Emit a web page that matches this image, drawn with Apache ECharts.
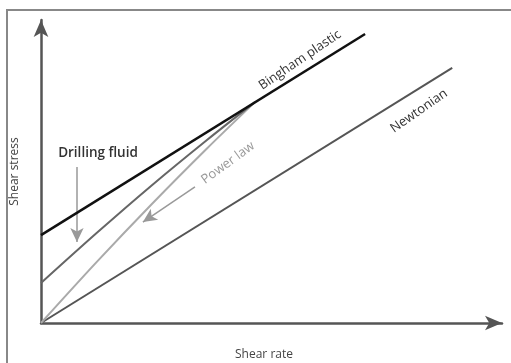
<!DOCTYPE html>
<html>
<head>
<meta charset="utf-8">
<script src="https://cdn.jsdelivr.net/npm/echarts@6/dist/echarts.min.js"></script>
<style>html,body{margin:0;padding:0;background:#fff}#c{width:511px;height:363px}</style>
</head>
<body>
<div id="c"></div>
<script>
// Values (arbitrary units: shear rate 0-100, shear stress 0-100)
const binghamX = [0, 70.3];
const binghamY = [29.0, 95.4];
const newtonianX = [0, 89.2];
const newtonianY = [0, 84.2];
const drillingX = [0, 12, 24, 36, 46.4];
const drillingY = [13.2, 29.6, 45.4, 60.4, 72.9];
const powerX = [0, 12, 24, 36, 46.4];
const powerY = [0, 20.0, 39.2, 57.6, 72.9];
const xTitle = 'Shear rate';
const yTitle = 'Shear stress';

const pairs = (xs, ys) => xs.map((x, i) => [x, ys[i]]);

const chart = echarts.init(document.getElementById('c'));
const FONT = 'Open Sans';
chart.setOption({
  animation: false,
  backgroundColor: '#fff',
  grid: {left: 41, top: 20, right: 9, bottom: 40},
  xAxis: {
    type: 'value', min: 0, max: 100,
    axisLine: {show: true, lineStyle: {color: '#555', width: 2.5}, symbol: ['none', 'arrow'], symbolSize: [11, 17]},
    axisTick: {show: false}, axisLabel: {show: false}, splitLine: {show: false}
  },
  yAxis: {
    type: 'value', min: 0, max: 100,
    name: yTitle, nameLocation: 'middle', nameGap: 20, nameRotate: 90,
    nameTextStyle: {fontFamily: FONT, fontSize: 12, color: '#444'},
    axisLine: {show: true, lineStyle: {color: '#555', width: 2.5}, symbol: ['none', 'arrow'], symbolSize: [11, 17]},
    axisTick: {show: false}, axisLabel: {show: false}, splitLine: {show: false}
  },
  graphic: [
    {type: 'rect', z: -10, shape: {x: 7, y: 10, width: 540, height: 390}, style: {fill: 'none', stroke: '#888', lineWidth: 2}},
    {type: 'text', x: 264, y: 355, style: {text: xTitle, font: '12px "Open Sans"', fill: '#444', align: 'center', verticalAlign: 'middle'}},
    {type: 'text', x: 98, y: 153, style: {text: 'Drilling fluid', font: '600 13.5px "Open Sans"', fill: '#333', align: 'center', verticalAlign: 'middle'}},
    {type: 'text', x: 300, y: 60, rotation: 34 * Math.PI / 180, style: {text: 'Bingham plastic', font: '13px "Open Sans"', fill: '#333', align: 'center', verticalAlign: 'middle'}},
    {type: 'text', x: 419, y: 111, rotation: 35 * Math.PI / 180, style: {text: 'Newtonian', font: '13px "Open Sans"', fill: '#333', align: 'center', verticalAlign: 'middle'}},
    {type: 'text', x: 228, y: 163, rotation: 36 * Math.PI / 180, style: {text: 'Power law', font: '13px "Open Sans"', fill: '#999', align: 'center', verticalAlign: 'middle'}}
  ],
  series: [
    {type: 'line', name: 'Newtonian', data: pairs(newtonianX, newtonianY), showSymbol: false, z: 2,
     lineStyle: {color: '#555', width: 2}},
    {type: 'line', name: 'Power law', data: pairs(powerX, powerY), smooth: 0.3, showSymbol: false, z: 3,
     lineStyle: {color: '#aaa', width: 2},
     markLine: {silent: true, symbol: ['none', 'arrow'], symbolSize: [10, 14], label: {show: false},
       lineStyle: {color: '#999', width: 1.5, type: 'solid'},
       data: [[{coord: [33.4, 44.9]}, {coord: [22.1, 33.3]}]]}},
    {type: 'line', name: 'Drilling fluid', data: pairs(drillingX, drillingY), smooth: 0.3, showSymbol: false, z: 4,
     lineStyle: {color: '#666', width: 2},
     markLine: {silent: true, symbol: ['none', 'arrow'], symbolSize: [10, 14], label: {show: false},
       lineStyle: {color: '#999', width: 1.5, type: 'solid'},
       data: [[{coord: [7.8, 51.5]}, {coord: [7.8, 26.7]}]]}},
    {type: 'line', name: 'Bingham plastic', data: pairs(binghamX, binghamY), showSymbol: false, z: 5,
     lineStyle: {color: '#111', width: 2.5}}
  ]
});
</script>
</body>
</html>
